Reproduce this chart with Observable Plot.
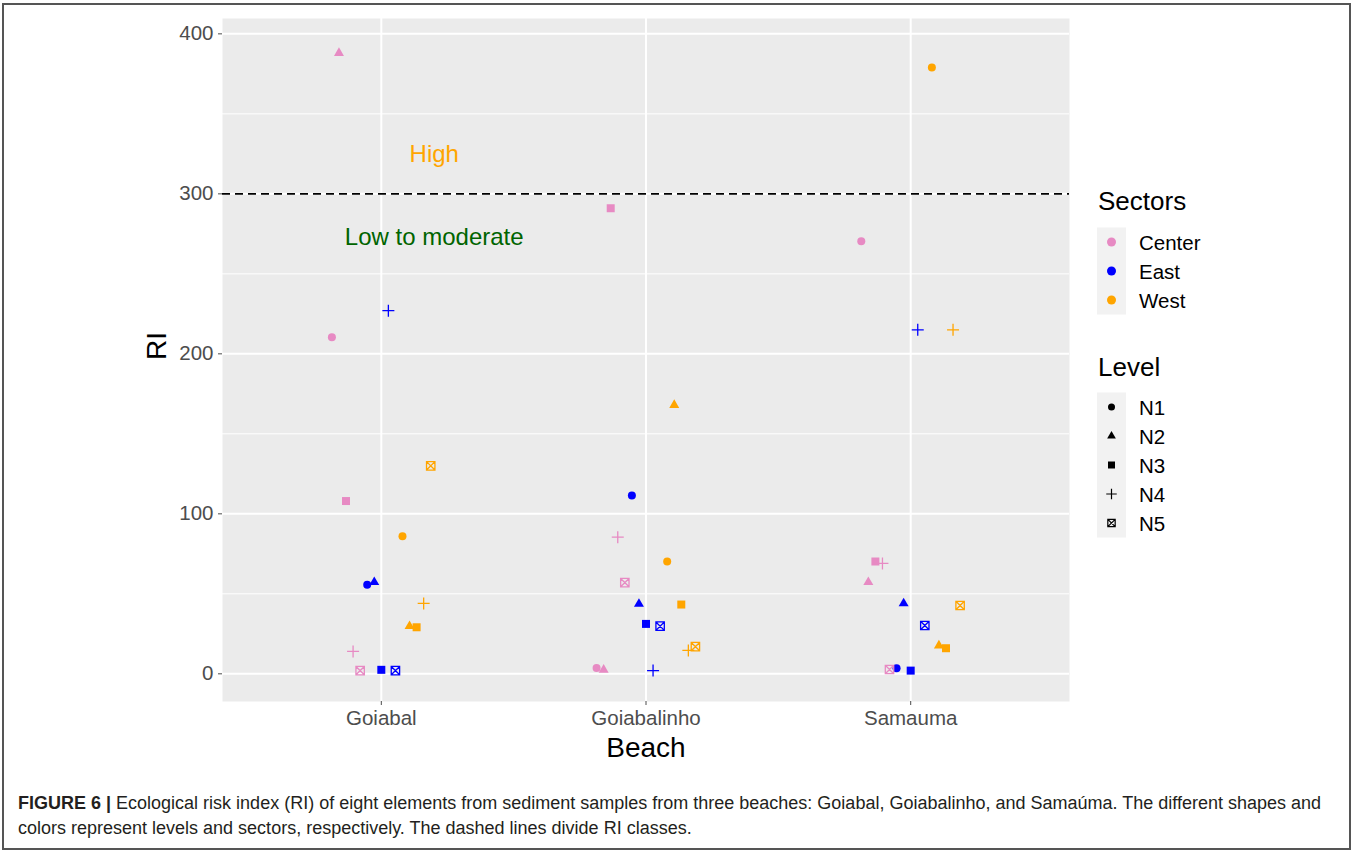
<!DOCTYPE html>
<html><head><meta charset="utf-8">
<script src="https://cdn.jsdelivr.net/npm/d3@7"></script>
<script src="https://cdn.jsdelivr.net/npm/@observablehq/plot@0.6"></script>
<style>
body{margin:0;background:#fff;font-family:"Liberation Sans",Arial,Helvetica,sans-serif;}
#wrap{position:relative;width:1357px;height:852px;overflow:hidden;background:#fff;}
#chart{position:absolute;left:0;top:0;}
#legend{position:absolute;left:0;top:0;}
#border{position:absolute;left:2px;top:3px;width:1349px;height:847px;border:2px solid #555;box-sizing:border-box;z-index:5;pointer-events:none;}
#caption{position:absolute;left:18px;top:791px;font-size:18px;line-height:25px;color:#231f20;white-space:nowrap;}
#caption b{font-weight:bold;}
</style></head>
<body>
<div id="wrap">
  <div id="chart"></div>
  <svg id="legend" width="1357" height="600"></svg>
  <div id="caption"><b>FIGURE 6 |</b> Ecological risk index (RI) of eight elements from sediment samples from three beaches: Goiabal, Goiabalinho, and Samaúma. The different shapes and<br>colors represent levels and sectors, respectively. The dashed lines divide RI classes.</div>
  <div id="border"></div>
</div>
<script>
// ---------- data ----------
const beaches = ["Goiabal", "Goiabalinho", "Samauma"];
const sectors = ["Center", "East", "West"];
const levels = ["N1", "N2", "N3", "N4", "N5"];
// RI values, ordered Center N1..N5, East N1..N5, West N1..N5
const riGoiabal     = [210.4, 388, 108, 14, 2,   55.6, 57.3, 2.5, 227, 2,   86, 29.8, 29.1, 44, 130];
const riGoiabalinho = [3.7, 2.5, 291, 85.4, 57,  111.4, 43.7, 31.2, 2, 29.8, 70.2, 168, 43.3, 14.6, 17];
const riSamauma     = [270.4, 57.3, 70.2, 69, 2.7, 3.5, 44, 2, 215, 30.2,   379, 17.7, 16, 215, 42.7];
const yTicks = [0, 100, 200, 300, 400];
const yMinor = [50, 150, 250, 350];
const riThreshold = 300;
const classLabels = ["High", "Low to moderate"];
const classLabelY = [325, 273];
const classLabelX = [1.2, 1.2];
const classColors = ["#FFA500", "#006400"];
const sectorColors = ["#E78AC3", "#0000FF", "#FFA500"];
const dodgeWidth = 0.4;

const riByBeach = [riGoiabal, riGoiabalinho, riSamauma];
const nGroups = sectors.length * levels.length;
const rows = [];
beaches.forEach((b, i) => {
  sectors.forEach((s, j) => {
    levels.forEach((l, k) => {
      const g = j * levels.length + k;
      rows.push({
        beach: b, sector: s, level: l, k,
        x: (i + 1) + (g - (nGroups - 1) / 2) * dodgeWidth / nGroups,
        ri: riByBeach[i][g]
      });
    });
  });
});

// ---------- symbols (ggplot shapes 16, 17, 15, 3, 7) ----------
const rOf = s => Math.sqrt(s / Math.PI);
const symCircle = {draw(c, s) {const r = rOf(s); c.moveTo(r, 0); c.arc(0, 0, r, 0, 2 * Math.PI); c.closePath();}};
const symTriangle = {draw(c, s) {const r = rOf(s) * 1.25, h = r * 1.73; c.moveTo(0, -h * 2 / 3); c.lineTo(r, h / 3); c.lineTo(-r, h / 3); c.closePath();}};
const symSquare = {draw(c, s) {const a = rOf(s); c.moveTo(-a, -a); c.lineTo(a, -a); c.lineTo(a, a); c.lineTo(-a, a); c.closePath();}};
const symPlus = {draw(c, s) {const a = rOf(s) * 1.5; c.moveTo(-a, 0); c.lineTo(a, 0); c.moveTo(0, -a); c.lineTo(0, a);}};
const symSquareX = {draw(c, s) {const a = rOf(s) * 1.05; c.moveTo(-a, -a); c.lineTo(a, -a); c.lineTo(a, a); c.lineTo(-a, a); c.closePath(); c.moveTo(-a, -a); c.lineTo(a, a); c.moveTo(a, -a); c.lineTo(-a, a);}};
const levelSymbols = [symCircle, symTriangle, symSquare, symPlus, symSquareX];
const filledLevels = new Set([0, 1, 2]);

const font = '"Liberation Sans", Arial, Helvetica, sans-serif';

const chart = Plot.plot({
  width: 1080, height: 770,
  marginLeft: 222, marginRight: 11, marginTop: 18, marginBottom: 69,
  style: {fontFamily: font, background: "transparent", overflow: "visible"},
  x: {domain: [0.4, 3.6], label: null},
  y: {domain: [-17.3, 409.6], label: null},
  color: {domain: sectors, range: sectorColors},
  symbol: {domain: levels, range: levelSymbols},
  marks: [
    Plot.frame({fill: "#EBEBEB", stroke: null}),
    Plot.ruleY(yMinor, {stroke: "white", strokeWidth: 1}),
    Plot.ruleY(yTicks, {stroke: "white", strokeWidth: 2}),
    Plot.ruleX([1, 2, 3], {stroke: "white", strokeWidth: 2}),
    Plot.axisY({ticks: yTicks, tickSize: 4, tickPadding: 5, fontSize: 20.5, color: "#4D4D4D", label: null}),
    Plot.axisX({ticks: [1, 2, 3], tickFormat: d => beaches[d - 1], tickSize: 4, tickPadding: 5, fontSize: 20.5, color: "#4D4D4D", label: null}),
    Plot.ruleY([riThreshold], {stroke: "black", strokeWidth: 1.8, strokeDasharray: "8,5"}),
    Plot.text(classLabels, {x: (d, i) => classLabelX[i], y: (d, i) => classLabelY[i], text: d => d,
      fill: (d, i) => classColors[i], fontSize: 24}),
    Plot.dot(rows.filter(d => filledLevels.has(d.k)), {x: "x", y: "ri", symbol: "level", fill: "sector", r: 4}),
    Plot.dot(rows.filter(d => !filledLevels.has(d.k)), {x: "x", y: "ri", symbol: "level", stroke: "sector", fill: "none", strokeWidth: 1.3, r: 4}),
    Plot.text(["RI"], {frameAnchor: "left", dx: -65, rotate: -90, text: d => d, fontSize: 28, fill: "black"}),
    Plot.text(["Beach"], {frameAnchor: "bottom", lineAnchor: "middle", dy: 47, text: d => d, fontSize: 28, fill: "black"})
  ]
});
document.getElementById("chart").appendChild(chart);

// ---------- legend ----------
const lg = d3.select("#legend").style("font-family", font);
function symPath(sym, r) {const p = d3.path(); sym.draw(p, r * r * Math.PI); return p.toString();}
const keyX = 1097, keyW = 29, keyH = 29, labelX = 1139;
// Sectors
lg.append("text").attr("x", 1098).attr("y", 210).attr("font-size", 26).text("Sectors");
const sTop = 227.5;
lg.append("rect").attr("x", keyX).attr("y", sTop).attr("width", keyW).attr("height", keyH * sectors.length).attr("fill", "#F2F2F2");
sectors.forEach((s, i) => {
  const cy = sTop + keyH * i + keyH / 2;
  lg.append("circle").attr("cx", keyX + keyW / 2).attr("cy", cy).attr("r", 4.5).attr("fill", sectorColors[i]);
  lg.append("text").attr("x", labelX).attr("y", cy + 7.5).attr("font-size", 20.5).text(s);
});
// Level
lg.append("text").attr("x", 1098).attr("y", 376).attr("font-size", 26).text("Level");
const lTop = 392.5;
lg.append("rect").attr("x", keyX).attr("y", lTop).attr("width", keyW).attr("height", keyH * levels.length).attr("fill", "#F2F2F2");
levels.forEach((l, i) => {
  const cy = lTop + keyH * i + keyH / 2;
  const filled = filledLevels.has(i);
  lg.append("path").attr("transform", `translate(${keyX + keyW / 2},${cy})`)
    .attr("d", symPath(levelSymbols[i], 3.5))
    .attr("fill", filled ? "black" : "none").attr("stroke", filled ? "none" : "black").attr("stroke-width", 1.2);
  lg.append("text").attr("x", labelX).attr("y", cy + 7.5).attr("font-size", 20.5).text(l);
});
</script>
</body></html>
